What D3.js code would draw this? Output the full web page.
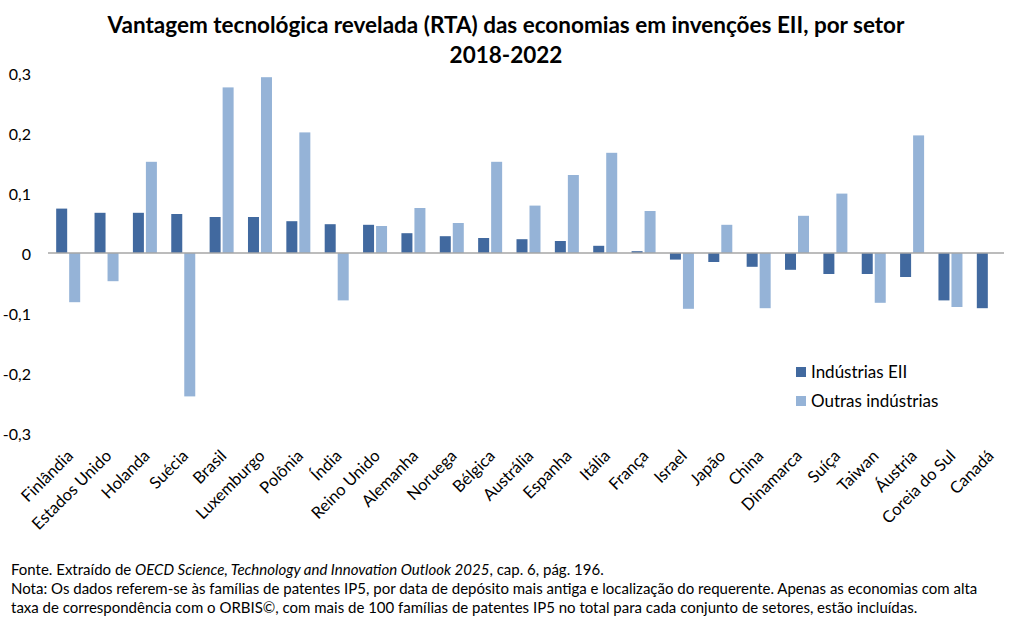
<!DOCTYPE html>
<html lang="pt-br">
<head>
<meta charset="utf-8">
<title>Vantagem tecnológica revelada (RTA)</title>
<script src="https://d3js.org/d3.v7.min.js"></script>
<style>
  body { margin: 0; background: #fff; }
  text { font-family: Lato, "Open Sans", sans-serif; fill: #000; }
</style>
</head>
<body>
<script>
// dados
var paises = ["Finlândia", "Estados Unido", "Holanda", "Suécia", "Brasil", "Luxemburgo", "Polônia", "Índia",
  "Reino Unido", "Alemanha", "Noruega", "Bélgica", "Austrália", "Espanha", "Itália", "França",
  "Israel", "Japão", "China", "Dinamarca", "Suíça", "Taiwan", "Áustria", "Coreia do Sul", "Canadá"];
var series = ["Indústrias EII", "Outras indústrias"];
var eii = [0.074, 0.067, 0.067, 0.065, 0.060, 0.060, 0.053, 0.048,
  0.047, 0.033, 0.028, 0.025, 0.023, 0.020, 0.012, 0.003,
  -0.011, -0.015, -0.023, -0.028, -0.035, -0.035, -0.040, -0.079, -0.092];
var outras = [-0.082, -0.047, 0.152, -0.239, 0.276, 0.293, 0.201, -0.079,
  0.045, 0.075, 0.050, 0.152, 0.079, 0.130, 0.167, 0.070,
  -0.093, 0.047, -0.092, 0.062, 0.099, -0.083, 0.196, -0.090, null];
var yTicks = [-0.3, -0.2, -0.1, 0, 0.1, 0.2, 0.3];
var cores = ["#41699f", "#95b3d7"];

var W = 1012, H = 630;
var svg = d3.select("body").append("svg").attr("width", W).attr("height", H);

var x0 = d3.scaleBand().domain(paises).range([49, 1008]);
var bw = x0.bandwidth();
var x1 = d3.scaleBand().domain(series)
  .range([bw / 2 - 12, bw / 2 + 12]).paddingInner(2 / 13);
var y = d3.scaleLinear().domain([-0.3, 0.3]).range([433, 73]);
var cor = d3.scaleOrdinal().domain(series).range(cores);

var loc = d3.formatLocale({decimal: ",", thousands: ".", grouping: [3], currency: ["", ""], minus: "-"});
var fmt = loc.format(".1f");

// titulo
svg.append("text").attr("x", 506).attr("y", 33).attr("text-anchor", "middle")
  .style("font-size", "22.5px").style("font-weight", "bold")
  .text("Vantagem tecnológica revelada (RTA) das economias em invenções EII, por setor");
svg.append("text").attr("x", 506).attr("y", 63).attr("text-anchor", "middle")
  .style("font-size", "22.5px").style("font-weight", "bold")
  .text("2018-2022");

// eixo y (so rotulos)
var gy = svg.append("g").attr("transform", "translate(31,1)")
  .call(d3.axisLeft(y).tickValues(yTicks).tickSize(0).tickPadding(0)
    .tickFormat(function(d) { return d === 0 ? "0" : fmt(d); }));
gy.select(".domain").remove();
gy.selectAll("text").style("font-size", "16px").style("font-family", "Lato, sans-serif").attr("fill", "#000");

// barras
var dados = paises.map(function(p, i) { return {pais: p, v: [eii[i], outras[i]]}; });
var grupos = svg.selectAll("g.pais").data(dados).enter().append("g")
  .attr("class", "pais")
  .attr("transform", function(d) { return "translate(" + x0(d.pais) + ",0)"; });
grupos.selectAll("rect")
  .data(function(d) { return series.map(function(s, j) { return {s: s, v: d.v[j]}; }).filter(function(e) { return e.v !== null; }); })
  .enter().append("rect")
  .attr("x", function(d) { return x1(d.s); })
  .attr("width", x1.bandwidth())
  .attr("y", function(d) { return y(Math.max(0, d.v)); })
  .attr("height", function(d) { return Math.abs(y(d.v) - y(0)); })
  .attr("fill", function(d) { return cor(d.s); });

// linha do zero
svg.append("line").attr("x1", 48).attr("x2", 1004).attr("y1", y(0)).attr("y2", y(0))
  .attr("stroke", "#a6a6a6").attr("stroke-width", 1.5);

// rotulos das categorias
svg.selectAll("text.cat").data(paises).enter().append("text")
  .attr("class", "cat")
  .attr("text-anchor", "end")
  .style("font-size", "16.5px")
  .attr("transform", function(p) {
    return "translate(" + (x0(p) + bw / 2 + 6) + ",457) rotate(-45)";
  })
  .text(function(p) { return p; });

// legenda
var leg = svg.append("g").attr("transform", "translate(796,367)");
series.forEach(function(s, i) {
  leg.append("rect").attr("x", 0).attr("y", i * 29).attr("width", 10).attr("height", 10).attr("fill", cor(s));
  leg.append("text").attr("x", 15).attr("y", i * 29 + 11).style("font-size", "17px").text(s);
});

// notas
var notas = svg.append("g").style("font-size", "15px");
var t1 = notas.append("text").attr("x", 11).attr("y", 575);
t1.append("tspan").text("Fonte.  Extraído de ");
t1.append("tspan").style("font-style", "italic").text("OECD Science, Technology and Innovation Outlook 2025");
t1.append("tspan").text(", cap. 6, pág. 196.");
notas.append("text").attr("x", 11).attr("y", 594)
  .text("Nota: Os dados referem-se às famílias de patentes IP5, por data de depósito mais antiga e localização do requerente.  Apenas as economias com alta");
notas.append("text").attr("x", 11).attr("y", 613)
  .text("taxa de correspondência  com o ORBIS©, com mais de 100 famílias de patentes IP5 no total para cada conjunto de setores, estão incluídas.");
</script>
</body>
</html>
